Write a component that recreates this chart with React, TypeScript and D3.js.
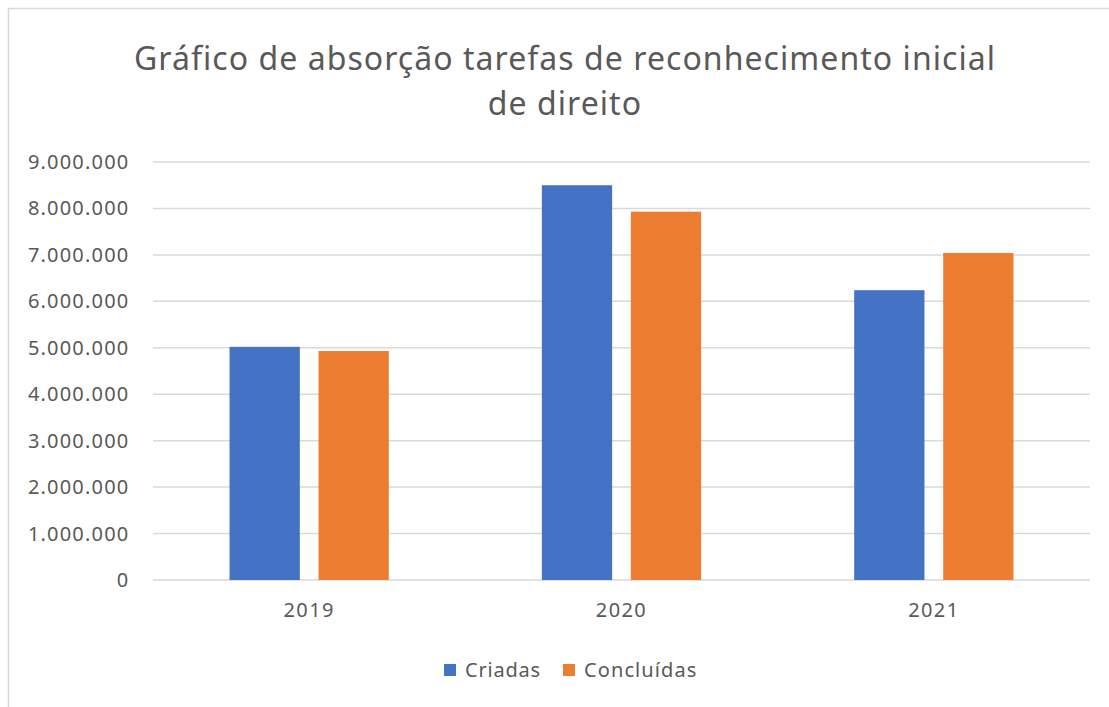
import React from 'react';
import * as d3 from 'd3';

const years = ['2019', '2020', '2021'];
const criadas = [5020000, 8500000, 6240000];
const concluidas = [4930000, 7930000, 7040000];
const yTicks = [0, 1000000, 2000000, 3000000, 4000000, 5000000, 6000000, 7000000, 8000000, 9000000];
const seriesNames = ['Criadas', 'Concluídas'];
const colors = ['#4472c4', '#ed7d31'];

const W = 1109;
const H = 707;
const FONT = '"Segoe UI", "Noto Sans", "Open Sans", sans-serif';

const fmt = (v: number) => v.toString().replace(/\B(?=(\d{3})+(?!\d))/g, '.');

export default function App() {
  const left = 153, right = 1090, top = 162, bottom = 580;
  const x = d3.scaleBand().domain(years).range([left, right]).padding(0);
  const y = d3.scaleLinear().domain([0, 9000000]).range([bottom, top]);
  const bw = x.bandwidth();
  const barW = bw * 0.225;
  const gap = bw * 0.06;
  const series = [criadas, concluidas];

  return (
    <svg width={W} height={H} style={{ position: 'absolute', left: 0, top: 0, background: '#fff' }} fontFamily={FONT}>
      <rect x={0} y={0} width={W} height={H} fill="#fff" />
      <line x1={8.5} x2={8.5} y1={8} y2={H} stroke="#d9d9d9" strokeWidth={1.5} />
      <line x1={8} x2={W} y1={8.5} y2={8.5} stroke="#d9d9d9" strokeWidth={1.5} />

      <text x={565} y={70} textAnchor="middle" fontSize={32} letterSpacing={1.05} fill="#595959">
        Gráfico de absorção tarefas de reconhecimento inicial
      </text>
      <text x={565} y={115} textAnchor="middle" fontSize={32} letterSpacing={1.05} fill="#595959">
        de direito
      </text>

      {yTicks.map(t => (
        <g key={t}>
          <line x1={left} x2={right} y1={y(t)} y2={y(t)} stroke="#d9d9d9" strokeWidth={1.5} />
          <text x={129.5} y={y(t)} dy="0.35em" textAnchor="end" fontSize={20} letterSpacing={1.2} fill="#595959">
            {fmt(t)}
          </text>
        </g>
      ))}

      {years.map((yr, i) => {
        const cx = (x(yr) as number) + bw / 2;
        return (
          <g key={yr}>
            {series.map((s, j) => {
              const bx = j === 0 ? cx - gap / 2 - barW : cx + gap / 2;
              return (
                <rect key={j} x={bx} y={y(s[i])} width={barW} height={y(0) - y(s[i])} fill={colors[j]} />
              );
            })}
            <text x={cx} y={617} textAnchor="middle" fontSize={20} letterSpacing={1.4} fill="#595959">{yr}</text>
          </g>
        );
      })}

      <g>
        <rect x={444} y={664} width={12} height={12} fill={colors[0]} />
        <text x={465} y={677} fontSize={20} letterSpacing={0.8} fill="#595959">{seriesNames[0]}</text>
        <rect x={563} y={664} width={12} height={12} fill={colors[1]} />
        <text x={584} y={677} fontSize={20} letterSpacing={1.1} fill="#595959">{seriesNames[1]}</text>
      </g>
    </svg>
  );
}
